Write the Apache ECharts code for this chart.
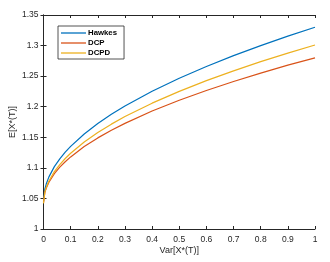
<!DOCTYPE html>
<html><head><meta charset="utf-8">
<script src="https://cdn.jsdelivr.net/npm/echarts@6/dist/echarts.min.js"></script>
<style>html,body{margin:0;padding:0;background:#fff}#c{width:330px;height:262px}</style>
</head><body><div id="c"></div>
<script>
const xVals = [0,0.005,0.01,0.02,0.04,0.06,0.08,0.1,0.15,0.2,0.25,0.3,0.4,0.5,0.6,0.7,0.8,0.9,1.0];
const hawkes = [1.045,1.065,1.0735,1.0853,1.102,1.1148,1.1256,1.1351,1.1554,1.1725,1.1875,1.2011,1.2252,1.2465,1.2658,1.2835,1.2999,1.3154,1.330];
const dcp = [1.043,1.0598,1.0667,1.0765,1.0904,1.1011,1.1100,1.1179,1.1348,1.1490,1.1615,1.1728,1.1929,1.2106,1.2266,1.2413,1.2550,1.2679,1.280];
const dcpd = [1.042,1.0603,1.0679,1.0786,1.0938,1.1054,1.1153,1.1239,1.1423,1.1578,1.1715,1.1839,1.2058,1.2251,1.2426,1.2587,1.2737,1.2877,1.301];
const seriesNames = ['Hawkes','DCP','DCPD'];
const xTitle = 'Var[X*(T)]';
const yTitle = 'E[X*(T)]';

const colors = ['#0072BD','#D95319','#EDB120'];
const axisCol = '#262626';
const font = 'Liberation Sans, Arial, Helvetica, sans-serif';
const pair = arr => xVals.map((x,i)=>[x,arr[i]]);
const chart = echarts.init(document.getElementById('c'));
const baseX = {type:'value',min:0,max:1,interval:0.1,
  axisLine:{show:true,lineStyle:{color:axisCol,width:1}},
  axisTick:{show:true,inside:true,length:3,lineStyle:{color:axisCol}},
  splitLine:{show:false}};
const baseY = {type:'value',min:1,max:1.35,interval:0.05,
  axisLine:{show:true,lineStyle:{color:axisCol,width:1}},
  axisTick:{show:true,inside:true,length:3,lineStyle:{color:axisCol}},
  splitLine:{show:false}};
chart.setOption({
  animation:false,
  color:colors,
  grid:{left:43.5,right:15,top:15,bottom:33,containLabel:false,outerBoundsMode:'none'},
  legend:{show:true,orient:'vertical',left:58,top:26,
    data:seriesNames,
    icon:'rect',itemWidth:25,itemHeight:1.3,itemGap:0,
    borderColor:'#262626',borderWidth:0.8,padding:[2,7,1,3],
    backgroundColor:'#fff',
    textStyle:{fontFamily:font,fontSize:7.8,lineHeight:10,color:'#000',fontWeight:'bold',padding:[0,0,0,-3]}},
  xAxis:[Object.assign({},baseX,{position:'bottom',name:xTitle,nameLocation:'middle',nameGap:17,nameMoveOverlap:false,
      nameTextStyle:{fontFamily:font,fontSize:9,color:'#262626'},
      axisLabel:{fontFamily:font,fontSize:8.5,color:'#262626',margin:6}}),
    Object.assign({},baseX,{position:'top',axisLabel:{show:false}})],
  yAxis:[Object.assign({},baseY,{position:'left',name:yTitle,nameLocation:'middle',nameGap:26,nameMoveOverlap:false,
      nameTextStyle:{fontFamily:font,fontSize:9,color:'#262626'},
      axisLabel:{fontFamily:font,fontSize:8.5,color:'#262626',margin:5}}),
    Object.assign({},baseY,{position:'right',axisLabel:{show:false}})],
  series:[
    {name:seriesNames[0],type:'line',data:pair(hawkes),showSymbol:false,lineStyle:{width:1.2},z:3},
    {name:seriesNames[1],type:'line',data:pair(dcp),showSymbol:false,lineStyle:{width:1.2},z:3},
    {name:seriesNames[2],type:'line',data:pair(dcpd),showSymbol:false,lineStyle:{width:1.2},z:3}
  ]
});
</script></body></html>
